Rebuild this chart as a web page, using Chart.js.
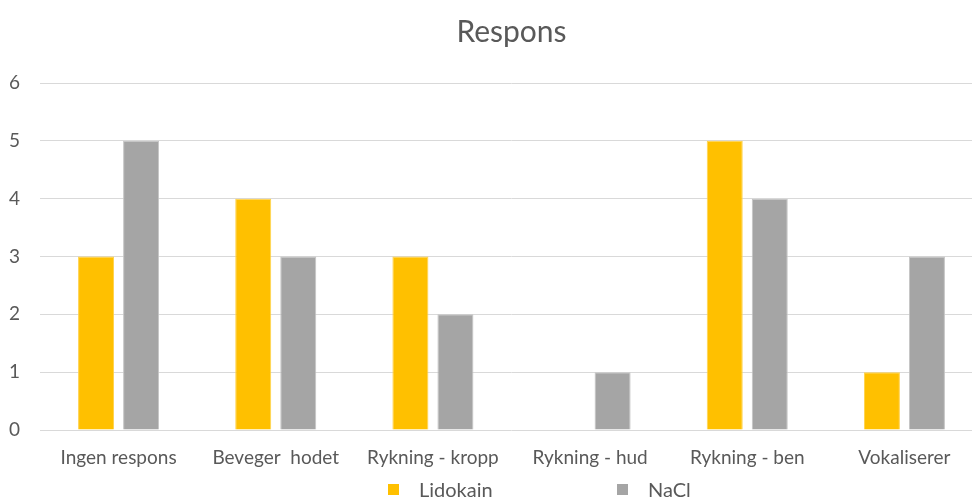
<!DOCTYPE html>
<html>
<head>
<meta charset="utf-8">
<script src="https://cdn.jsdelivr.net/npm/chart.js@4"></script>
<style>
  html, body { margin: 0; padding: 0; background: #fff; overflow: hidden; }
  /* the original plot runs a little past the right edge of the picture */
  #wrap { width: 983px; height: 499px; }
</style>
</head>
<body>
<div id="wrap"><canvas id="responsChart"></canvas></div>
<script>
const categories = ["Ingen respons", "Beveger  hodet", "Rykning - kropp", "Rykning - hud", "Rykning - ben", "Vokaliserer"];
const lidokain = [3, 4, 3, 0, 5, 1];
const nacl = [5, 3, 2, 1, 4, 3];
const yTicks = [0, 1, 2, 3, 4, 5, 6];

const textColor = "#595959";

// legend drawn by hand so the two items can sit far apart like the original
const bottomLegend = {
    id: "bottomLegend",
    afterDraw(chart) {
        const ctx = chart.ctx;
        const xs = [388, 617];
        ctx.save();
        ctx.font = "20px Lato";
        ctx.textBaseline = "middle";
        chart.data.datasets.forEach((ds, i) => {
            ctx.fillStyle = ds.backgroundColor;
            ctx.fillRect(xs[i], 484, 11, 11);
            ctx.fillStyle = textColor;
            ctx.fillText(ds.label, xs[i] + 31, 491);
        });
        ctx.restore();
    }
};

new Chart(document.getElementById("responsChart"), {
    type: "bar",
    data: {
        labels: categories,
        datasets: [
            {
                label: "Lidokain",
                data: lidokain,
                backgroundColor: "#FFC000",
                borderColor: "#FFD24A",
                borderWidth: 1,
                categoryPercentage: 0.573,
                barPercentage: 0.8
            },
            {
                label: "NaCl",
                data: nacl,
                backgroundColor: "#A5A5A5",
                borderColor: "#C4C4C4",
                borderWidth: 1,
                categoryPercentage: 0.573,
                barPercentage: 0.8
            }
        ]
    },
    options: {
        responsive: true,
        maintainAspectRatio: false,
        animation: false,
        layout: { padding: 0 },
        plugins: {
            legend: { display: false },
            tooltip: { enabled: false },
            title: {
                display: true,
                fullSize: false,
                text: "Respons",
                color: textColor,
                font: { family: "Lato", size: 30, weight: "normal" },
                padding: { top: 14, bottom: 33 }
            }
        },
        scales: {
            x: {
                afterFit: scale => { scale.height = 69; },
                grid: { display: false },
                border: { display: false },
                ticks: {
                    color: textColor,
                    font: { family: "Lato", size: 19 },
                    padding: 8,
                    maxRotation: 0,
                    autoSkip: false
                }
            },
            y: {
                min: 0,
                max: 6,
                afterFit: scale => { scale.width = 40; },
                afterBuildTicks: scale => { scale.ticks = yTicks.map(v => ({ value: v })); },
                grid: { color: "#D9D9D9", lineWidth: 1, drawTicks: false },
                border: { display: false },
                ticks: {
                    color: textColor,
                    font: { family: "Lato", size: 19 },
                    padding: 20
                }
            }
        }
    },
    plugins: [bottomLegend]
});
</script>
</body>
</html>
